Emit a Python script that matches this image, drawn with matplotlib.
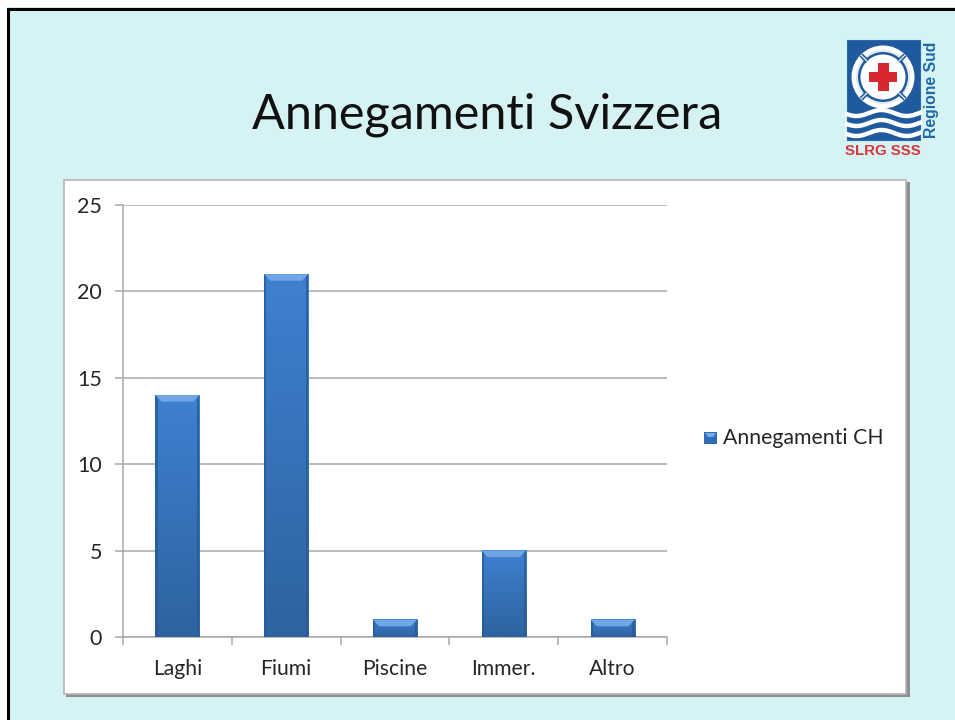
import numpy as np
import matplotlib
matplotlib.use("Agg")
import matplotlib.pyplot as plt
from matplotlib.colors import LinearSegmentedColormap
from matplotlib.patches import Rectangle, Circle, Polygon

# Values
categories = ["Laghi", "Fiumi", "Piscine", "Immer.", "Altro"]
values = [14, 21, 1, 5, 1]
y_ticks = [0, 5, 10, 15, 20, 25]
series_name = "Annegamenti CH"
title = "Annegamenti Svizzera"

W, H = 955, 720
plt.rcParams["font.family"] = ["Lato", "DejaVu Sans"]

fig = plt.figure(figsize=(W / 100, H / 100), dpi=100, facecolor="#d5f3f3")

# Background layer, in pixel coordinates of the slide
bg = fig.add_axes([0, 0, 1, 1], zorder=0)
bg.set_xlim(0, W)
bg.set_ylim(H, 0)
bg.axis("off")

# Slide border
bg.add_patch(Rectangle((-1, -1), 8, H + 2, color="white", lw=0))
bg.add_patch(Rectangle((-1, -1), W + 2, 8, color="white", lw=0))
bg.plot([8, 8, W + 2], [H + 2, 8.5, 8.5], color="black", lw=2.2, solid_joinstyle="miter")

# Chart frame with its shadow
bg.add_patch(Rectangle((66, 182), 843.5, 515, color="#8f8f8f", lw=0))
bg.add_patch(Rectangle((64, 180), 842, 514, facecolor="white", edgecolor="#b5b5b5", lw=1.2))

bg.text(487, 114.5, title, fontsize=35, ha="center", va="center", color="#111111")

# Logo
blue = "#1f5a9e"
bg.add_patch(Rectangle((846.5, 39.5), 73.5, 100.5, facecolor=blue, edgecolor="#2f6aa8", lw=0.8))
bg.add_patch(Circle((883, 77), 31.5, color="white", lw=0))
bg.add_patch(Circle((883, 77), 27, color="#dfe9f3", lw=0))
bg.add_patch(Circle((883, 77), 25, color=blue, lw=0))
bg.add_patch(Circle((883, 77), 22.5, color="white", lw=0))
for a in [45, 135, 225, 315]:
    ca, sa = np.cos(np.radians(a)), np.sin(np.radians(a))
    bg.plot([883 + 22 * ca, 883 + 31 * ca], [77 + 22 * sa, 77 + 31 * sa], color=blue, lw=3.2, solid_capstyle="butt")
    bg.plot([883 + 22 * ca, 883 + 31 * ca], [77 + 22 * sa, 77 + 31 * sa], color="#dfe9f3", lw=1, solid_capstyle="butt")
bg.add_patch(Rectangle((878, 63), 10.5, 28, color="#d8282f", lw=0))
bg.add_patch(Rectangle((869, 72), 28, 10, color="#d8282f", lw=0))
xw = np.linspace(847, 920, 80)
for yw in [113, 123, 133]:
    bg.plot(xw, yw + 3 * np.sin((xw - 847) / 73 * 2 * np.pi * 1.45 + 0.4), color="white", lw=3.2)
bg.text(883, 151, "SLRG SSS", fontsize=10.8, family="Liberation Sans", weight="bold",
        color="#d8353a", ha="center", va="center")
bg.text(931, 89.5, "Regione Sud", fontsize=11.3, family="Liberation Sans", weight="bold",
        color="#1f6aa8", rotation=90, ha="center", va="center")

# Chart axes, placed in pixels
x0, x1, y_top, y_bottom = 123, 667, 205, 637
ax = fig.add_axes([x0 / W, 1 - y_bottom / H, (x1 - x0) / W, (y_bottom - y_top) / H], zorder=1)
ax.patch.set_alpha(0)
pos = np.arange(len(categories))
bar_w = 0.405
bars = ax.bar(pos, values, width=bar_w, color="#3a78c4", zorder=3)
ax.set_yticks(y_ticks)
ax.set_xticks(pos)
ax.set_xticklabels(categories)
ax.set_xticks(np.arange(len(categories) + 1) - 0.5, minor=True)
ax.grid(axis="y", color="#a8a8a8", lw=1.1, zorder=1)
ax.set_axisbelow(True)
for s in ["top", "right"]:
    ax.spines[s].set_visible(False)
for s in ["left", "bottom"]:
    ax.spines[s].set_color("#a8a8a8")
    ax.spines[s].set_linewidth(1.1)
ax.tick_params(axis="y", labelsize=15.5, length=6, width=1.1, color="#a8a8a8", labelcolor="#262626", pad=9)
ax.tick_params(axis="x", which="major", length=0, labelsize=15.2, labelcolor="#262626", pad=16)
ax.tick_params(axis="x", which="minor", length=6, width=1.1, color="#a8a8a8")

# Bevelled gradient on each bar
ygrad = LinearSegmentedColormap.from_list("ygrad", ["#2e639f", "#3f80d0"])
for bar in bars:
    bx, bw, bh = bar.get_x(), bar.get_width(), bar.get_height()
    ax.imshow(np.linspace(1, 0, 64).reshape(-1, 1), extent=(bx, bx + bw, 0, bh), cmap=ygrad,
              vmin=0, vmax=1, aspect="auto", zorder=3)
    edge = bw * 0.05
    bev = 0.38
    ax.add_patch(Rectangle((bx, 0), edge, bh, color="#265a97", alpha=0.75, lw=0, zorder=4))
    ax.add_patch(Rectangle((bx + bw - edge, 0), edge, bh, color="#265a97", alpha=0.75, lw=0, zorder=4))
    ax.add_patch(Polygon([(bx, bh), (bx + bw, bh), (bx + bw - bw * 0.14, bh - bev), (bx + bw * 0.14, bh - bev)],
                         color="#6ea6e6", lw=0, zorder=5))
# imshow resets the limits
ax.set_xlim(-0.5, len(categories) - 0.5)
ax.set_ylim(0, 25)

# Legend key and label
bg.add_patch(Rectangle((704, 432), 13, 12, color="#2f6cb5", lw=0, zorder=5))
bg.add_patch(Polygon([(705, 433), (716, 433), (713, 437), (708, 437)], color="#74aae8", lw=0, zorder=6))
bg.text(722.5, 437.5, series_name, fontsize=15.3, ha="left", va="center", color="#262626", zorder=6)

plt.savefig("out.png", dpi=100, facecolor=fig.get_facecolor())
